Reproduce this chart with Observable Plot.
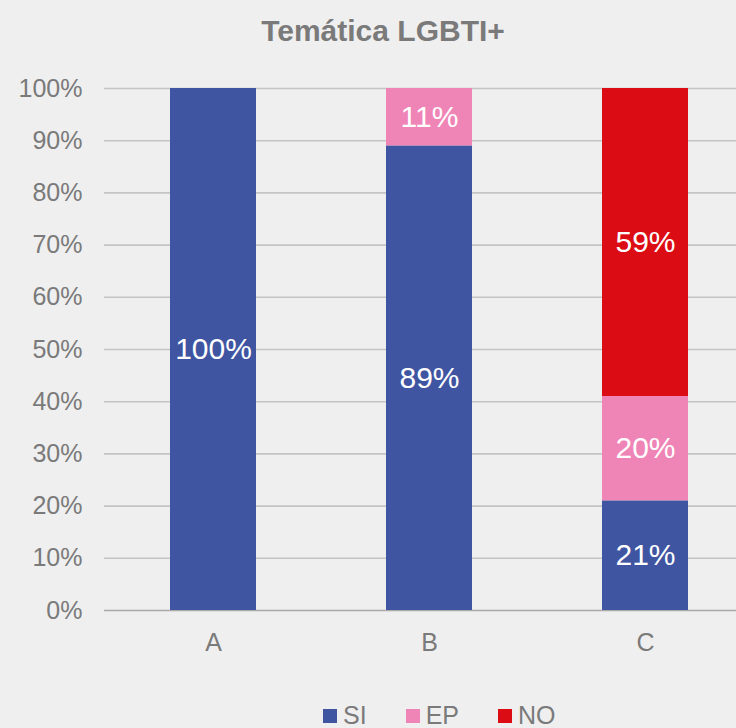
<!DOCTYPE html>
<html>
<head>
<meta charset="utf-8">
<script src="https://cdn.jsdelivr.net/npm/d3@7"></script>
<script src="https://cdn.jsdelivr.net/npm/@observablehq/plot@0.6"></script>
<style>
  html, body { margin: 0; padding: 0; background: #efefef; }
  #wrap { width: 736px; height: 728px; overflow: hidden; background: #efefef; font-family: "Liberation Sans", Arial, sans-serif; }
  #title { height: 60px; box-sizing: border-box; padding-top: 16px; line-height: 30px; font-size: 30px; font-weight: bold; color: #7a7a7a; text-align: center; padding-left: 30px; }
  #legend { height: 38px; box-sizing: border-box; padding-top: 13px; display: flex; align-items: center; padding-left: 323px; font-size: 25px; line-height: 25px; color: #7a7a7a; }
  .item { display: flex; align-items: center; margin-right: 39px; }
  .sw { width: 14px; height: 14px; margin-right: 6px; }
  svg { display: block; }
</style>
</head>
<body>
<div id="wrap">
  <div id="title">Temática LGBTI+</div>
  <div id="chart"></div>
  <div id="legend"></div>
</div>
<script>
const categories = ["A", "B", "C"];
const series = ["SI", "EP", "NO"];
const seriesColors = ["#3f55a1", "#ef84b6", "#dc0c14"];
const siValues = [100, 89, 21];
const epValues = [0, 11, 20];
const noValues = [0, 0, 59];
const yTicks = [0, 10, 20, 30, 40, 50, 60, 70, 80, 90, 100];

const valuesBySeries = [siValues, epValues, noValues];
const rows = [];
categories.forEach((c, i) => {
  series.forEach((s, j) => {
    const v = valuesBySeries[j][i];
    if (v > 0) rows.push({category: c, series: s, value: v});
  });
});

const chart = Plot.plot({
  width: 736,
  height: 630,
  marginTop: 28,
  marginBottom: 80,
  marginLeft: 104,
  marginRight: 0,
  style: {background: "transparent", fontFamily: "'Liberation Sans', Arial, sans-serif", fontSize: "25px"},
  x: {domain: categories, range: [104, 753.5], paddingInner: 0.603, paddingOuter: 0.3015, label: null},
  y: {domain: [0, 100], label: null},
  color: {domain: series, range: seriesColors},
  marks: [
    Plot.ruleY(yTicks.filter(d => d > 0), {stroke: "#c4c4c4", strokeWidth: 1.6}),
    Plot.ruleY([0], {stroke: "#a9a9a9", strokeWidth: 1.6}),
    Plot.barY(rows, Plot.stackY({x: "category", y: "value", z: "series", fill: "series"})),
    Plot.text(rows, Plot.stackY({x: "category", y: "value", z: "series", text: d => d.value + "%", fill: "white", fontSize: 30})),
    Plot.axisY({ticks: yTicks, tickSize: 0, tickPadding: 22, tickFormat: d => d + "%", fontSize: 25, color: "#7a7a7a", label: null}),
    Plot.axisX({tickSize: 0, tickPadding: 23, fontSize: 25, color: "#7a7a7a", label: null})
  ]
});
document.getElementById("chart").appendChild(chart);

const legend = document.getElementById("legend");
series.forEach((s, j) => {
  const item = document.createElement("div");
  item.className = "item";
  const sw = document.createElement("div");
  sw.className = "sw";
  sw.style.background = seriesColors[j];
  const t = document.createElement("span");
  t.textContent = s;
  item.appendChild(sw);
  item.appendChild(t);
  legend.appendChild(item);
});
</script>
</body>
</html>
